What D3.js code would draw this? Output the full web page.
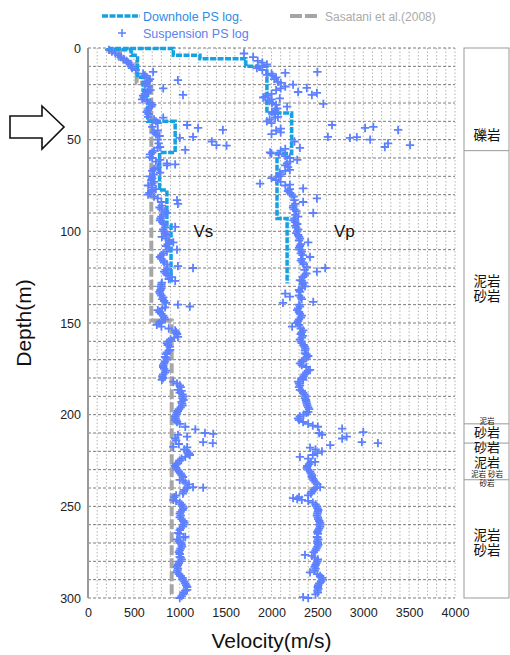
<!DOCTYPE html>
<html><head><meta charset="utf-8">
<script src="https://cdn.jsdelivr.net/npm/d3@7"></script>
<style>
html,body{margin:0;padding:0;background:#fff;}
svg{display:block;font-family:"Liberation Sans",Arial,sans-serif;}
</style></head>
<body>
<svg id="chart" width="510" height="655"></svg>
<script>
// ---------------- DATA ----------------
const xTicks = [0,500,1000,1500,2000,2500,3000,3500,4000];
const yTicks = [0,50,100,150,200,250,300];

// Downhole PS log layers: [top depth, bottom depth, velocity]
const downholeVs = [[0,1,220],[1,4,470],[4,16,540],[16,23,600],[23,40,650],[40,57,950],[57,77.5,780],[77.5,96.5,860],[96.5,128,905]];
const downholeVp = [[0,0.3,220],[0.3,3.9,930],[3.9,5.8,1220],[5.8,10,1720],[10,35.5,1950],[35.5,57.5,2220],[57.5,93,2060],[93,128.5,2170]];
// Sasatani et al. (2008) Vs layers
const sasataniVs = [[0,2,240],[2,7.5,350],[7.5,19,530],[19,148.7,690],[148.7,300,912]];

// Suspension PS log: [depth, velocity]
const suspVs = [[1,230],[2,260],[3,300],[4,330],[5,360],[6,390],[7,420],[8,440],[9,460],[10,470],[11,480],[12,520],[13,710],[14,600],[15,620],[16,640],[17,675],[17.5,980],[18,660],[19,640],[20,620],[21,660],[22,820],[23,680],[24,650],[25,620],[25.6,1035],[26,600],[27,610],[28,590],[29,640],[30,680],[31,700],[32,690],[33,660],[34,650],[35,640],[36,660],[37.6,655],[38,820],[39,720],[40,740],[41,760],[42,1080],[43,700],[43.6,1200],[44.7,1470],[45,760],[46,720],[47,740],[48,780],[48.5,1145],[49,1000],[50,760],[51,1350],[52,770],[53,1400],[53.2,1510],[54,785],[54.5,760],[55.6,1060],[56,720],[57,700],[58,675],[59.5,675],
[60,700],[61,785],[62,740],[63,860],[63.5,950],[64,860],[65,760],[66,720],[67,700],[68,785],[69,720],[70,675],[71,700],[72,690],[73,720],[74,700],[75,655],[76,700],[77,740],[78,690],[79,670],[80,655],
[81,720],[82,760],[83,970],[84,800],[85,980],[86,805],[87,780],[88,800],[89,840],[90,860],[91,820],[92,800],[93,790],[94,785],[95,810],[96,830],[97.6,950],[98,840],[99,820],[100,830],
[101,840],[102,860],[103,805],[104,850],[105,880],[106,930],[107,870],[108,850],[109,880],[110,970],[111,860],[112,820],[113,800],[114,785],[115,800],[116,820],[117,830],[118,860],[119,980],[120,1145],[120.5,870],[121,850],[122,830],[123,850],[124,870],[125,915],[126,880],[127,950],[128,805],[129,800],[130,790],
[131,800],[132,790],[133,780],[134,785],[135,800],[136,820],[137,810],[138,830],[139,850],[140,980],[141,1110],[141.5,840],[142,810],[143,760],[144,780],[145,800],[146,820],[147,830],[148,840],[149,800],[150,780],[151,750],
[152,800],[153,880],[154,950],[155,960],[156,970],[157.6,980],[158,940],[159,900],[160,880],[161,860],[162,870],[163,890],[164.7,895],[165,880],[166,860],[167,850],[168.5,840],[169,850],[170,860],[171,840],[172,830],[173,820],[174,820],[175,830],[176,850],[177,840],[178,820],[179,810],[180,820],[181,805],
[182,930],[183,970],[184,1000],[185,1010],[186.5,980],[187,1020],[188,1000],[189,1030],[190,1040],[191,1030],[192,1040],[193,1020],[194,1025],[195,1030],[196,1010],[197,990],[198,980],[199,970],[200,960],[201,950],[202,955],[203,950],[204,970],[205,1000],[206.6,1060],[208,1170],[210,1275],[210.5,1365],[211,980],[212,1080],[213,950],[214,960],[215,1255],[215.5,1360],[216,990],[217.6,930],[217.8,1080],[219,1050],[220,1080],[221,1100],[222,1110],[223,1060],[224,1020],[225,1000],[226.6,980],[227,960],[228,950],[229,960],[230,970],
[231,990],[232,1010],[233,1020],[234,1035],[235.6,1000],[236,1040],[237,1060],[238,1100],[239.5,1145],[239.8,1255],[240,1080],[241,1050],[242,1040],[243,1035],[244,960],[245,940],[246.5,930],[247,960],[248,1000],[249,1020],[250,1035],[251,1040],[252,1030],[253,1010],[254,1000],[255,1010],[256,1000],[257,1020],[258,1040],[259,1050],[260,1040],[261,1035],[262,1010],[263,1000],[264.5,980],[265,1000],[266.7,1060],[267,1040],[268,970],[269,990],[270,1010],
[271,1020],[272,1025],[273,1010],[274,1000],[275,990],[276,1000],[277.6,1000],[278,1010],[279,1020],[280,1000],[281,990],[282,980],[283,970],[284,980],[285,975],[286,970],[287,990],[288,1010],[289,1030],[290,1035],[291,1050],[292,1060],[293,1070],[294,1080],[295.6,1080],[296,1060],[297,1040],[298,1035],[299,1020],[300,1000]];

const suspVp = [[3,1700],[5,1800],[7,1850],[8,1900],[9,1950],[10,1900],
[11,1840],[12,1900],[13,2500],[13.6,2150],[14,2000],[14.7,1950],[15,2010],[16,2050],[17,2030],[18.5,2070],[19,2100],[20,2235],[21,2150],[21.8,2385],[22,2100],[23,2050],[24,2290],[24.5,2495],[25,2000],[25.6,2440],[26,1960],[26.7,1930],[27,1910],[27.5,2090],[28,2000],[29,1980],[30,2005],[30.5,2565],[31,2050],[32,2170],[33,2060],[34,2040],[35,2005],[36,2030],[37.6,2070],[38,2040],[39,1980],[40,1950],
[41,2000],[42,2660],[43,3110],[43.6,3020],[44,2100],[44.7,3380],[45,2050],[46,2100],[47,2000],[48.5,2615],[48.6,2930],[49,2855],[50,3075],[51,2250],[52,3270],[53,3510],[54,3235],[54.5,2310],[55,2150],[56,2100],[57,1985],[57.5,2000],[58,2080],[59,2150],
[60,2200],[61,2280],[62,2200],[63,2170],[64,2150],[65,2180],[66.5,2200],[67,2150],[68,2090],[69,2100],[70,2080],[71,2000],[72,2050],[73,2100],[74,1875],[74.5,2200],[75,2150],[76.6,2345],[77,2200],[78,2180],[79,2200],[80,2220],[81,2240],[82,2495],[83,2250],[84,2345],[85,2260],[86,2240],[87,2235],[88,2250],[89,2270],[90,2455],[91,2260],[92,2290],[93,2250],[94,2240],[95,2260],[96,2280],[97,2260],[98,2270],[99,2290],[100,2280],
[101,2270],[102,2290],[103,2300],[104,2310],[105,2300],[106,2400],[107,2320],[108,2310],[109,2300],[110,2310],[111,2330],[112,2320],[113,2340],[114,2420],[115,2330],[116,2320],[117,2340],[118,2350],[119.5,2385],[120,2585],[121,2360],[122,2495],[123,2380],[124,2360],[125,2340],[126.6,2310],[127,2330],[128,2350],[129,2340],[130,2365],
[131,2330],[132,2300],[133,2310],[134,2150],[135,2300],[135.6,2200],[136,2320],[137,2330],[138.5,2455],[139,2125],[140,2300],[141,2310],[142,2290],[143,2280],[144,2300],[145,2310],[146,2330],[147,2320],[148,2300],[149,2290],[150,2280],
[151,2300],[152,2225],[153,2320],[154,2345],[155,2330],[156,2320],[157,2340],[158,2330],[159,2310],[160,2320],[161,2330],[162,2350],[163,2360],[164,2370],[165,2365],[166.5,2365],[167,2380],[168,2400],[169,2380],[170,2350],[171,2330],[172,2310],[173,2330],[174,2380],[175.6,2420],[176,2400],[177,2380],[178,2360],[179,2350],[180,2340],
[181,2345],[182,2290],[183,2300],[184,2310],[185,2300],[186.5,2310],[187,2330],[188,2345],[189,2360],[190,2370],[191,2365],[192,2375],[193,2380],[194,2385],[195,2390],[196,2400],[197,2410],[198.5,2400],[199,2380],[200,2350],[201,2310],[202,2290],[203,2300],[204,2345],
[205,2400],[206,2450],[206.6,2505],[207.6,2770],[209.5,3000],[210,2520],[211,2550],[212,2820],[213,2770],[215,2985],[215.5,3160],[216.6,2640],[218,2420],[219,2480],[220,2550],[221,2500],[222,2450],[223,2310],[224,2400],[225.8,2475],[226,2430],[227,2410],[228,2390],[229,2385],[230,2400],
[231,2420],[232,2430],[233,2440],[234,2440],[235,2450],[236,2460],[237,2480],[238,2500],[239.5,2530],[240,2480],[241,2460],[242,2440],[243,2430],[244,2400],[245,2300],[245.5,2235],[246,2280],[246.5,2330],[247,2400],[248,2450],[249,2480],[250,2495],
[251,2500],[252,2510],[253,2505],[254,2500],[255,2495],[256,2505],[257,2510],[258,2520],[259,2530],[260,2520],[261,2530],[262,2520],[263,2510],[264,2500],[265,2505],[266.7,2495],[267,2500],[268,2510],[269,2500],[270,2505],
[271,2510],[272,2500],[273,2490],[274,2480],[275,2460],[276.5,2365],[277,2440],[278,2470],[279,2505],[280,2500],[281,2490],[282,2480],[283,2470],[284,2480],[285,2470],[286,2420],[287,2500],[288,2530],[289,2550],[290,2560],[291,2540],[292,2520],[293,2510],[294,2505],[295,2510],[296,2500],[297,2505],[298,2480],[299.5,2345],[300,2400]];

// Lithology column: boundaries (depth) and labels [text, depth, size]
const lithBounds = [56, 205, 215.5, 235.5];
const lithLabels = [
  ["礫岩",47.5,13.5],["泥岩",127.1,13.5],["砂岩",135.3,13.5],
  ["泥岩",203.5,7.5],["砂岩",209.5,13],["砂岩",217.6,13],["泥岩",225.8,13],
  ["泥岩 砂岩",232.4,7.5],["砂岩",237.3,7.5],["泥岩",265.6,13.5],["砂岩",273.8,13.5]];

// ---------------- DRAW ----------------
const svg = d3.select("#chart");
const L=88, R=455, T=48, B=598;
const x = d3.scaleLinear().domain([0,4000]).range([L,R]);
const y = d3.scaleLinear().domain([0,300]).range([T,B]);

const blueMark = "#5d80ff", cyan = "#16a2e0", grey = "#a6a6a6";

// grid
const g = svg.append("g");
g.selectAll("line.v").data(d3.range(100,4001,100)).join("line")
  .attr("x1",d=>x(d)).attr("x2",d=>x(d)).attr("y1",T).attr("y2",B)
  .attr("stroke","#a0a0a0").attr("stroke-width",0.8).attr("stroke-dasharray","1.5,2");
g.selectAll("line.h").data(d3.range(0,301,10)).join("line")
  .attr("x1",L).attr("x2",R).attr("y1",d=>y(d)).attr("y2",d=>y(d))
  .attr("stroke","#5a5a5a").attr("stroke-width",0.8).attr("stroke-dasharray","3,2");
svg.append("line").attr("x1",L).attr("x2",L).attr("y1",T).attr("y2",B)
  .attr("stroke","#999").attr("stroke-width",2);

// tick labels
const xAxis = d3.axisBottom(x).tickValues(xTicks).tickSize(0).tickPadding(6).tickFormat(d3.format("d"));
const xa = svg.append("g").attr("transform",`translate(0,${B+4})`).call(xAxis);
xa.select(".domain").remove();
xa.selectAll("text").attr("font-size",12.5).attr("fill","#222").attr("font-family","Liberation Sans, Arial, sans-serif");
const yAxis = d3.axisLeft(y).tickValues(yTicks).tickSize(0).tickPadding(7);
const ya = svg.append("g").attr("transform",`translate(${L},0)`).call(yAxis);
ya.select(".domain").remove();
ya.selectAll("text").attr("font-size",12.5).attr("fill","#222").attr("font-family","Liberation Sans, Arial, sans-serif");

// step lines
const stepPts = layers => layers.flatMap(([t,b,v]) => [[v,t],[v,b]]);
const line = d3.line().x(d=>x(d[0])).y(d=>y(d[1]));
svg.append("path").attr("d",line(stepPts(sasataniVs))).attr("fill","none")
  .attr("stroke",grey).attr("stroke-width",4).attr("stroke-dasharray","10,3");
[downholeVs, downholeVp].forEach(layers=>{
  svg.append("path").attr("d",line(stepPts(layers))).attr("fill","none")
    .attr("stroke",cyan).attr("stroke-width",3.5).attr("stroke-dasharray","6,1.5");
});

// markers
const cross = (sel, pts) => sel.selectAll(null).data(pts).join("path")
  .attr("d",d=>{const cx=x(d[1]), cy=y(d[0]), s=4.2; return `M${cx-s},${cy}H${cx+s}M${cx},${cy-s}V${cy+s}`;})
  .attr("stroke",blueMark).attr("stroke-width",1.8).attr("fill","none");
cross(svg.append("g"), suspVs);
cross(svg.append("g"), suspVp);

// Vs / Vp labels
svg.append("text").attr("x",x(1150)).attr("y",y(103)).text("Vs").attr("font-size",17).attr("fill","#111");
svg.append("text").attr("x",x(2680)).attr("y",y(103)).text("Vp").attr("font-size",17).attr("fill","#111");

// Axis titles
svg.append("text").attr("transform",`translate(31,${(T+B)/2}) rotate(-90)`).attr("text-anchor","middle")
  .attr("font-size",21).attr("fill","#111").text("Depth(m)");
svg.append("text").attr("x",(L+R)/2).attr("y",648).attr("text-anchor","middle")
  .attr("font-size",21).attr("fill","#111").text("Velocity(m/s)");

// Legend
const lg = svg.append("g");
lg.append("line").attr("x1",102).attr("x2",140).attr("y1",16).attr("y2",16)
  .attr("stroke",cyan).attr("stroke-width",3.5).attr("stroke-dasharray","6,1.5");
lg.append("text").attr("x",143).attr("y",21).attr("font-size",12.5).attr("fill","#2f8be4").text("Downhole PS log.");
lg.append("path").attr("d","M118,33H126M122,29V37").attr("stroke",blueMark).attr("stroke-width",1.5);
lg.append("text").attr("x",143).attr("y",38).attr("font-size",12.5).attr("fill","#5b7ff0").text("Suspension PS log");
lg.append("line").attr("x1",290).attr("x2",319).attr("y1",16).attr("y2",16)
  .attr("stroke",grey).attr("stroke-width",4).attr("stroke-dasharray","12,3");
lg.append("text").attr("x",325).attr("y",21).attr("font-size",12).attr("fill","#aaa").text("Sasatani et al.(2008)");

// Arrow
svg.append("path").attr("d","M10,116H42V106L64,127L42,149V138H10Z")
  .attr("fill","#fff").attr("stroke","#111").attr("stroke-width",1.6);

// Lithology column
const lc = svg.append("g");
lc.append("rect").attr("x",464).attr("y",T).attr("width",45).attr("height",B-T)
  .attr("fill","none").attr("stroke","#999").attr("stroke-width",1);
lc.selectAll("line").data(lithBounds).join("line")
  .attr("x1",464).attr("x2",509).attr("y1",d=>y(d)).attr("y2",d=>y(d))
  .attr("stroke","#999").attr("stroke-width",1);
lc.selectAll("text").data(lithLabels).join("text")
  .attr("x",487).attr("y",d=>y(d[1])+d[2]*0.36).attr("text-anchor","middle")
  .attr("font-size",d=>d[2]).attr("font-family","Liberation Sans, Noto Sans CJK JP, sans-serif").attr("fill","#111")
  .text(d=>d[0]);
</script>
</body></html>
